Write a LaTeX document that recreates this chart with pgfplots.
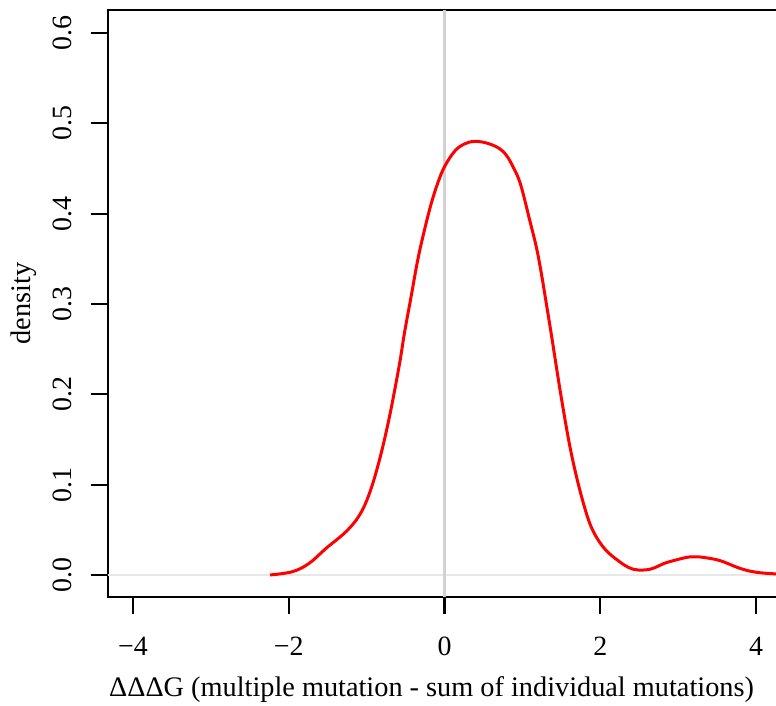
\documentclass[border=0pt]{standalone}
\usepackage{fontspec}
\setmainfont{Liberation Serif}
\usepackage{pgfplots}
\pgfplotsset{compat=1.18}

\begin{document}
\begin{tikzpicture}
\begin{axis}[name=ax,scale only axis,width=336.5bp,height=293.5bp,
  xmin=-4.32,xmax=4.32,ymin=-0.0244,ymax=0.6255,
  axis line style={line width=1.1bp,black},
  tick align=outside,xtick pos=bottom,ytick pos=left,
  major tick length=8.5bp,tick style={line width=1.1bp,black},
  xtick={-4,-2,0,2,4},xticklabels={−4,−2,0,2,4},
  ytick={0,0.1,0.2,0.3,0.4,0.5,0.6},yticklabels={0.0,0.1,0.2,0.3,0.4,0.5,0.6},
  ticklabel style={font=\fontsize{14}{16}\selectfont},
  xticklabel shift=7.8bp,yticklabel shift=5.8bp,
  yticklabel style={rotate=90,anchor=south},
  xlabel={ΔΔΔG (multiple mutation - sum of individual mutations)},
  ylabel={density},
  label style={font=\fontsize{14.2}{16}\selectfont},
  xlabel style={at={(rel axis cs:0.4807,0)},anchor=base,yshift=-49.5bp},
  ylabel style={at={(rel axis cs:0,0.5)},anchor=base,rotate=0,yshift=38.5bp},
  clip=true]
\addplot[color={rgb,255:red,232;green,232;blue,232},line width=0.6bp] coordinates {(-4.32,0)(4.32,0)};
\addplot[color={rgb,255:red,210;green,210;blue,210},line width=1.5bp] coordinates {(0,-0.0244)(0,0.6255)};
\addplot[red,line width=1.5bp,smooth,tension=0.6] coordinates {
(-2.24,0) (-1.95,0.0037) (-1.736,0.013) (-1.52,0.0295) (-1.264,0.048)
(-1.093,0.066) (-0.965,0.090) (-0.836,0.127) (-0.707,0.175) (-0.579,0.233)
(-0.514,0.268) (-0.429,0.308) (-0.343,0.349) (-0.257,0.382) (-0.171,0.411)
(-0.086,0.434) (0,0.452) (0.129,0.469) (0.25,0.477) (0.386,0.48)
(0.55,0.478) (0.707,0.472) (0.8,0.464) (0.879,0.452) (0.95,0.439)
(1.007,0.423) (1.093,0.393) (1.179,0.363) (1.243,0.334) (1.308,0.300)
(1.372,0.266) (1.437,0.230) (1.50,0.196) (1.608,0.143) (1.715,0.1015)
(1.822,0.068) (1.9,0.050) (1.994,0.036) (2.1,0.025) (2.25,0.0145)
(2.37,0.008) (2.486,0.0055) (2.637,0.0063) (2.75,0.010) (2.85,0.0137)
(3.11,0.0195) (3.22,0.0200) (3.32,0.0195) (3.537,0.0159) (3.79,0.0074)
(4.0,0.003) (4.26,0.0011) (4.4,0.0003)};
\coordinate (bl) at (rel axis cs:0,0);
\end{axis}
\pgfresetboundingbox
\path[use as bounding box] ([shift={(-54bp,-54.5bp)}]bl) rectangle ([shift={(334bp,298.5bp)}]bl);
\end{tikzpicture}
\end{document}
